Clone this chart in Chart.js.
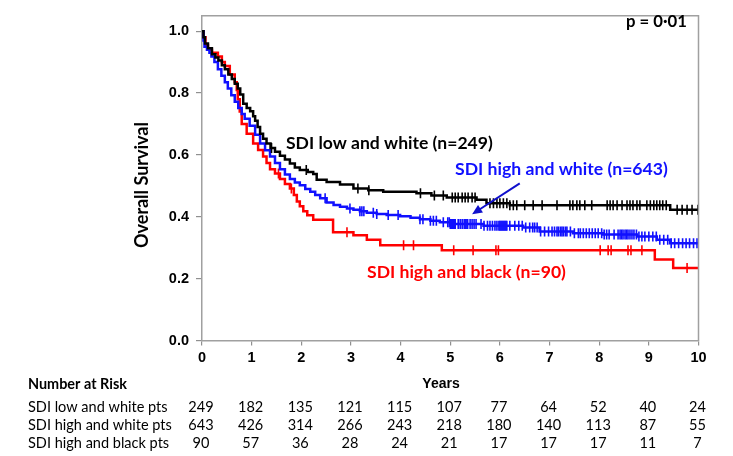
<!DOCTYPE html>
<html><head><meta charset="utf-8">
<script src="https://cdn.jsdelivr.net/npm/chart.js@4.4.1/dist/chart.umd.min.js"></script>
<style>html,body{margin:0;padding:0;background:#fff}#wrap{width:733px;height:456px;position:relative}</style>
</head><body><div id="wrap"><canvas id="c"></canvas></div>
<script>
// ---------- DATA ----------
const yearTicks = [0,1,2,3,4,5,6,7,8,9,10];
const survivalTicks = [0,0.2,0.4,0.6,0.8,1.0];

const groupLabels = ["SDI low and white (n=249)", "SDI high and white (n=643)", "SDI high and black (n=90)"];
const riskRowLabels = ["SDI low and white pts", "SDI high and white pts", "SDI high and black pts"];

// Kaplan-Meier steps: at time t the survival drops to value s
const lowWhiteTimes = [0,0.03,0.06,0.12,0.2,0.27,0.33,0.4,0.46,0.53,0.6,0.66,0.72,0.77,0.83,0.9,0.97,1.03,1.07,1.12,1.17,1.23,1.3,1.38,1.47,1.57,1.67,1.77,1.87,1.97,2.13,2.24,2.31,2.51,2.78,3.05,3.35,3.65,4.32,4.62,4.93,5.53,5.73,6.2,9.43,10];
const lowWhiteSurv  = [1.0,0.98,0.96,0.945,0.925,0.915,0.905,0.89,0.877,0.86,0.845,0.83,0.815,0.795,0.765,0.752,0.741,0.725,0.71,0.69,0.668,0.652,0.637,0.622,0.61,0.597,0.585,0.572,0.559,0.551,0.545,0.538,0.52,0.512,0.504,0.491,0.486,0.481,0.476,0.469,0.462,0.455,0.444,0.437,0.423,0.423];

const highWhiteTimes = [0,0.03,0.05,0.1,0.15,0.19,0.25,0.32,0.39,0.46,0.52,0.59,0.66,0.73,0.8,0.86,0.96,1.07,1.17,1.27,1.37,1.47,1.57,1.67,1.77,1.87,1.97,2.08,2.18,2.28,2.38,2.51,2.65,2.78,2.92,3.05,3.18,3.32,3.52,3.72,3.99,4.2,4.39,4.6,4.79,5.0,5.67,6.47,6.8,7.47,8.08,8.76,9.16,9.43,10];
const highWhiteSurv  = [1.0,0.97,0.95,0.94,0.93,0.918,0.9,0.877,0.856,0.835,0.815,0.793,0.772,0.752,0.732,0.717,0.694,0.665,0.637,0.615,0.595,0.574,0.554,0.537,0.522,0.511,0.502,0.49,0.481,0.47,0.46,0.446,0.438,0.432,0.427,0.423,0.418,0.413,0.409,0.406,0.402,0.397,0.392,0.387,0.382,0.377,0.371,0.365,0.352,0.347,0.343,0.336,0.326,0.314,0.314];

const highBlackTimes = [0,0.03,0.07,0.12,0.2,0.32,0.4,0.46,0.56,0.66,0.7,0.72,0.76,0.8,0.9,1.03,1.13,1.23,1.3,1.37,1.47,1.57,1.67,1.77,1.85,1.91,1.97,2.04,2.12,2.24,2.64,3.05,3.32,3.59,4.83,9.12,9.49,10];
const highBlackSurv  = [1.0,0.98,0.955,0.94,0.93,0.918,0.9,0.887,0.86,0.835,0.81,0.78,0.74,0.70,0.668,0.637,0.616,0.595,0.574,0.554,0.54,0.522,0.506,0.491,0.47,0.449,0.434,0.418,0.405,0.39,0.35,0.34,0.326,0.308,0.292,0.262,0.234,0.234];

// censoring times (years)
const lowWhiteCensor = [1.4,2.1,3.14,3.36,4.4,4.68,4.86,5.04,5.1,5.16,5.24,5.3,5.36,5.44,5.5,5.8,5.87,5.94,6.0,6.07,6.14,6.2,6.27,6.34,6.5,6.67,6.85,7.15,7.41,7.47,7.55,7.61,7.71,7.85,8.16,8.22,8.28,8.36,8.46,8.56,8.62,8.68,8.76,8.82,8.96,9.03,9.1,9.16,9.22,9.28,9.35,9.57,9.67,9.77,9.87,9.99];
const highWhiteCensor = [2.48,2.98,3.18,3.22,3.26,3.45,3.52,3.75,3.95,4.39,4.45,4.6,4.66,4.72,4.86,4.95,4.98,5.0,5.02,5.04,5.06,5.08,5.1,5.16,5.2,5.24,5.28,5.3,5.32,5.35,5.4,5.44,5.48,5.52,5.62,5.68,5.75,5.8,5.85,5.9,5.94,5.98,6.0,6.02,6.04,6.06,6.08,6.1,6.12,6.14,6.2,6.3,6.38,6.45,6.52,6.6,6.66,6.7,6.75,6.82,6.9,6.98,7.05,7.1,7.15,7.18,7.22,7.25,7.28,7.32,7.35,7.42,7.5,7.58,7.62,7.68,7.74,7.8,7.86,7.92,7.98,8.05,8.1,8.15,8.2,8.3,8.38,8.42,8.45,8.48,8.52,8.55,8.58,8.62,8.66,8.7,8.75,8.8,8.86,8.92,9.0,9.08,9.15,9.22,9.3,9.38,9.45,9.52,9.6,9.68,9.75,9.82,9.9,9.97];
const highBlackCensor = [1.54,1.8,2.92,4.06,4.26,5.07,5.46,5.92,5.97,8.02,8.18,8.24,8.58,8.64,8.86,9.77];

// number at risk at each year tick
const riskLowWhite  = [249,182,135,121,115,107,77,64,52,40,24];
const riskHighWhite = [643,426,314,266,243,218,180,140,113,87,55];
const riskHighBlack = [90,57,36,28,24,21,17,17,17,11,7];

const pValueText = "p = 0·01";
// arrow (data coordinates: years, survival)
const arrowFrom = [6.40, 0.508];
const arrowTo   = [5.44, 0.408];

// ---------- STYLE ----------
const colors = ["#000000", "#1010ff", "#ff0000"];
const tickFont = "'Liberation Sans', Arial, sans-serif";
const textFont = "Lato, 'Open Sans', sans-serif";

function steps(times, surv){ return times.map((t,i)=>({x:t, y:surv[i]})); }
function survAt(times, surv, t){ let s = surv[0]; for (let i=0;i<times.length;i++){ if (times[i] <= t) s = surv[i]; } return s; }
function censorPts(c, times, surv){ return c.map(t=>({x:t, y:survAt(times, surv, t)})); }

const curveSets = [
  [lowWhiteTimes, lowWhiteSurv, lowWhiteCensor],
  [highWhiteTimes, highWhiteSurv, highWhiteCensor],
  [highBlackTimes, highBlackSurv, highBlackCensor]
];
const order = [2,1,0];
const datasets = [];
order.forEach(i=>{
  const [t,s,c] = curveSets[i];
  datasets.push({type:'line', label: groupLabels[i], data: steps(t,s), stepped:'before', borderColor: colors[i], borderWidth:2.5, pointRadius:0, fill:false, order: 10+i});
  datasets.push({type:'scatter', label: groupLabels[i]+' censored', data: censorPts(c,t,s), pointStyle:'line', rotation:90, radius:5, pointRadius:5, borderColor: colors[i], backgroundColor: colors[i], pointBorderWidth:1.6, borderWidth:1.6, showLine:false, order: 10+i});
});

function fitSize(ctx, text, weight, family, targetW, base){
  ctx.font = weight+' '+base+'px '+family;
  const w = ctx.measureText(text).width;
  return base * targetW / w;
}

const overlay = {
  id:'overlay',
  afterDraw(chart){
    const ctx = chart.ctx, a = chart.chartArea, xs = chart.scales.x, ys = chart.scales.y;
    ctx.save();
    // box top/right
    ctx.strokeStyle = '#a0a0a0'; ctx.lineWidth = 1.5;
    ctx.beginPath(); ctx.moveTo(a.left, a.top); ctx.lineTo(a.right, a.top); ctx.lineTo(a.right, a.bottom); ctx.stroke();

    ctx.textBaseline = 'middle';
    // p value
    let sz = fitSize(ctx, pValueText, 'bold', textFont, 61, 15);
    ctx.font = 'bold '+sz+'px '+textFont; ctx.fillStyle = '#000'; ctx.textAlign='right';
    ctx.fillText(pValueText, 687, 22);
    // group labels
    ctx.textAlign = 'left';
    const lab = [[286,143,207],[455,169,213],[367,272,199]];
    groupLabels.forEach((t,i)=>{
      const s2 = fitSize(ctx, t, 'bold', textFont, lab[i][2], 16);
      ctx.font = 'bold '+s2+'px '+textFont; ctx.fillStyle = colors[i];
      ctx.fillText(t, lab[i][0], lab[i][1]);
    });
    // arrow
    const x1 = xs.getPixelForValue(arrowFrom[0]), y1 = ys.getPixelForValue(arrowFrom[1]);
    const x2 = xs.getPixelForValue(arrowTo[0]), y2 = ys.getPixelForValue(arrowTo[1]);
    const ang = Math.atan2(y2-y1, x2-x1);
    ctx.strokeStyle = '#1010cc'; ctx.fillStyle = '#1010cc'; ctx.lineWidth = 2;
    ctx.beginPath(); ctx.moveTo(x1,y1); ctx.lineTo(x2 - 6*Math.cos(ang), y2 - 6*Math.sin(ang)); ctx.stroke();
    ctx.beginPath(); ctx.moveTo(x2,y2);
    ctx.lineTo(x2 - 10*Math.cos(ang) + 4.5*Math.sin(ang), y2 - 10*Math.sin(ang) - 4.5*Math.cos(ang));
    ctx.lineTo(x2 - 10*Math.cos(ang) - 4.5*Math.sin(ang), y2 - 10*Math.sin(ang) + 4.5*Math.cos(ang));
    ctx.closePath(); ctx.fill();
    // y title
    ctx.save();
    ctx.translate(142, 185); ctx.rotate(-Math.PI/2);
    sz = fitSize(ctx, 'Overall Survival', 'bold', textFont, 126, 16);
    ctx.font = 'bold '+sz+'px '+textFont; ctx.fillStyle='#000'; ctx.textAlign='center';
    ctx.fillText('Overall Survival', 0, 0);
    ctx.restore();
    // Years
    ctx.font = 'bold 14px '+tickFont; ctx.fillStyle='#000'; ctx.textAlign='center';
    ctx.fillText('Years', 441, 384);
    // risk table
    ctx.textAlign='left';
    sz = fitSize(ctx, 'Number at Risk', 'bold', textFont, 99, 14);
    ctx.font = 'bold '+sz+'px '+textFont;
    ctx.fillText('Number at Risk', 28, 384);
    const rows = [riskLowWhite, riskHighWhite, riskHighBlack];
    const rowY = [407, 425, 443];
    const rs = fitSize(ctx, riskRowLabels[1], 'normal', textFont, 144, 13);
    ctx.font = 'normal '+rs+'px '+textFont;
    rows.forEach((r,i)=>{
      ctx.textAlign='left';
      ctx.fillText(riskRowLabels[i], 28, rowY[i]);
      ctx.textAlign='center';
      r.forEach((v,j)=>{ ctx.fillText(String(v), xs.getPixelForValue(yearTicks[j]) - 1, rowY[i]); });
    });
    ctx.restore();
  }
};

new Chart(document.getElementById('c'), {
  data: { datasets },
  options: {
    responsive:true, maintainAspectRatio:false, animation:false,
    layout:{ padding:{ left:0, right:34.5, top:4.5, bottom:0 } },
    plugins:{ legend:{display:false}, tooltip:{enabled:false} },
    scales:{
      x:{ type:'linear', min:0, max:10,
          afterBuildTicks(ax){ ax.ticks = yearTicks.map(v=>({value:v})); },
          afterFit(s){ s.height = 115.5; },
          ticks:{ font:{family:tickFont, weight:'bold', size:14.5}, color:'#000', padding:4, maxRotation:0, autoSkip:false },
          grid:{ drawOnChartArea:false, drawTicks:true, tickLength:5, color:'#909090', lineWidth:1.2 },
          border:{ display:true, color:'#a0a0a0', width:1.5 } },
      y:{ type:'linear', min:0, max:1.05,
          afterBuildTicks(ax){ ax.ticks = survivalTicks.map(v=>({value:v})); },
          afterFit(s){ s.width = 202; },
          ticks:{ font:{family:tickFont, weight:'bold', size:14.5}, color:'#000', padding:7, callback:v=>Number(v).toFixed(1) },
          grid:{ drawOnChartArea:false, drawTicks:true, tickLength:6, color:'#909090', lineWidth:1.2 },
          border:{ display:true, color:'#a0a0a0', width:1.5 } }
    }
  },
  plugins:[overlay]
});
</script></body></html>
